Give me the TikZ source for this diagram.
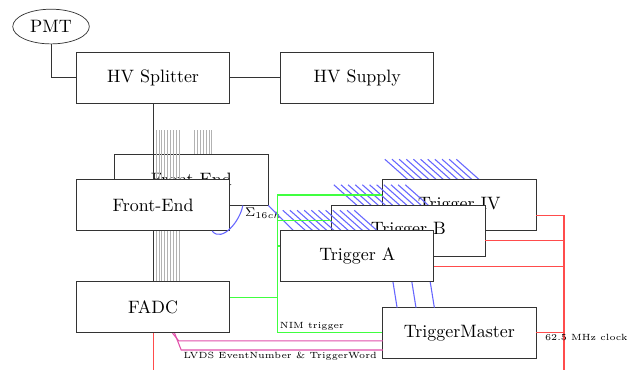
\documentclass[tikz,border=0pt]{standalone}
\usepackage{amsmath}
\usepackage{tikz}
\usetikzlibrary{calc,positioning,shapes.geometric}
\definecolor{lvdsfarbe}{RGB}{225,80,170}
\tikzset{
    modul/.style={
           rectangle,
           draw=black!80,
           fill=white,
           minimum width=3cm,
           minimum height=1cm,
           inner sep=0pt,
           text centered},
    kanal/.style={
           draw=black!30},
    bus/.style={
           draw=blue!60,
           line width=0.6pt},
    nim/.style={
           draw=green!75,
           line width=0.6pt},
    clk/.style={
           draw=red!70,
           line width=0.6pt},
    lvds/.style={
           draw=lvdsfarbe,
           line width=0.6pt},
    lbl/.style={
           font=\tiny,
           inner sep=1pt}
}

\begin{document}
\begin{tikzpicture}
          \def \kanalab {0.057}
          \def \schraffab {0.14}
          \useasboundingbox (-1,0.52) rectangle (11.5,-6.71);
          \clip (-1,0.52) rectangle (11.5,-6.71);
          \node[draw=black!80, ellipse, minimum width=1.5cm, minimum height=0.68cm, inner sep=0pt](pmt) at (0,0) {PMT};
          \node[modul](hvsplit) at (2,-1) {HV Splitter};
          \node[modul](hvsupply) at (6,-1) {HV Supply};
          \draw[black!80] (pmt) |- (hvsplit);
          \draw[black!80] (hvsplit) -- (hvsupply);
          \node[modul](febk) at (2.75,-3) {Front-End};
          \foreach \i in {1,...,9}
              \draw[kanal] (2+\i*\kanalab,-2.03) -- (2+\i*\kanalab,-5);
          \foreach \i in {1,...,7}
              \draw[kanal] (2.75+\i*\kanalab,-2.03) -- (2.75+\i*\kanalab,-2.5);
          \node[modul](fe) at (2,-3.5) {Front-End};
          \node[modul](fadc) at (2,-5.5) {FADC};
          \draw[black!80] (hvsplit) -- (fe);
          \draw[black!80] (fe) -- (fadc);
          \draw[bus] ([xshift=-3.5mm]fe.south east) to[out=-50,in=-100] ([xshift=-5mm]febk.south east)
              node[anchor=north west, inner sep=1pt, font=\scriptsize](summe) {$\Sigma_{16ch}$};
          \foreach \i in {0,...,10}
              \draw[bus] (6.54+\i*\schraffab,-2.6) -- ++(0.45,-0.4);
          \node[modul](trigiv) at (8,-3.5) {Trigger IV};
          \foreach \i in {0,...,10}
              \draw[bus] (5.54+\i*\schraffab,-3.1) -- ++(0.45,-0.4);
          \node[modul](trigb) at (7,-4) {Trigger B};
          \draw[bus] (febk.south east) -- ++(0.5,-0.5);
          \foreach \i in {0,...,10}
              \draw[bus] (4.54+\i*\schraffab,-3.6) -- ++(0.45,-0.4);
          \node[modul](triga) at (6,-4.5) {Trigger A};
          \node[modul](tmaster) at (8,-6) {TriggerMaster};
          \foreach \dx in {0.7,1.07,1.43}
              \draw[bus] ([xshift=\dx cm]triga.south) -- ++(0.08,-0.5);
          \coordinate (nimbus) at (4.44,0);
          \draw[nim] (tmaster.west) -- (tmaster.west -| nimbus)
              node[lbl, anchor=south west](nimlbl) {NIM trigger} |- ([yshift=2mm]trigiv.west);
          \draw[nim] ([yshift=2mm]trigb.west) -- +(-1.06,0);
          \draw[nim] ([yshift=2mm]triga.west) -- +(-0.06,0);
          \draw[nim] ([yshift=2mm]fadc.east) -- +(0.94,0);
          \coordinate (clkend) at (10.05,-7);
          \draw[clk] ([yshift=-2mm]trigiv.east) -| (clkend);
          \draw[clk] ([yshift=-2mm]trigb.east) -- +(1.55,0);
          \draw[clk] ([yshift=-2mm]triga.east) -- +(2.55,0);
          \draw[clk] (tmaster.east) -- +(0.55,0);
          \node[lbl, anchor=west](clklbl) at ([xshift=1.3mm,yshift=-1mm]tmaster.east) {62.5 MHz clock};
          \draw[clk] (fadc.south) -- +(0,-1.3);
          \draw[lvds] ([xshift=3.8mm]fadc.south) -- ++(0.12,-0.15) -- ++(4,0);
          \draw[lvds] ([xshift=4.2mm]fadc.south) -- ++(0.13,-0.33)
              node[lbl, anchor=north west](lvdslbl) {LVDS EventNumber \& TriggerWord} -- ++(3.95,0);
         \end{tikzpicture}
\end{document}
